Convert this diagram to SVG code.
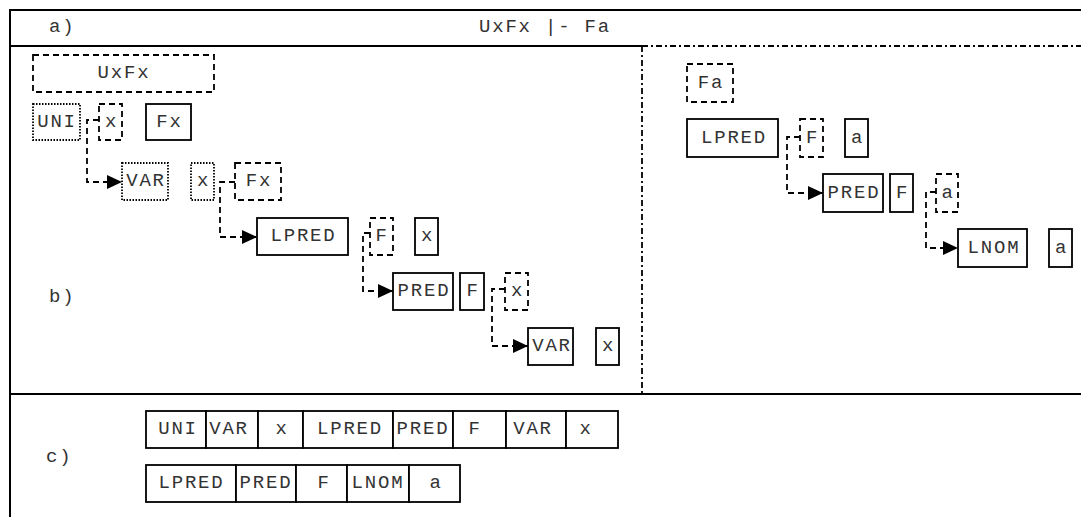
<svg xmlns="http://www.w3.org/2000/svg" width="1081" height="517" viewBox="0 0 1081 517">
<style>
text{font-family:"Liberation Mono","Courier New",monospace;font-size:19px;letter-spacing:1.8px;fill:#333;text-anchor:middle}
.lbl{text-anchor:start}
.s{fill:#fff;stroke:#000;stroke-width:1.8}
.d{fill:none;stroke:#000;stroke-width:1.8;stroke-dasharray:6 4}
.o{fill:none;stroke:#000;stroke-width:1.8;stroke-dasharray:1.5 1.5}
.frame{stroke:#000;stroke-width:2;fill:none}
.dd{stroke:#000;stroke-width:1.8;fill:none;stroke-dasharray:6 3 2 3}
.c{fill:none;stroke:#000;stroke-width:1.8;stroke-dasharray:6 4}
</style>
<defs>
<marker id="ah" markerUnits="userSpaceOnUse" markerWidth="16" markerHeight="14" refX="15" refY="7" orient="auto">
<path d="M0,0 L15,7 L0,14 Z" fill="#000"/>
</marker>
</defs>
<rect width="1081" height="517" fill="#fff"/>
<g id="frame">
<line class="frame" x1="10" y1="10" x2="1081" y2="10"/>
<line class="frame" x1="10" y1="9" x2="10" y2="517"/>
<line class="frame" x1="10" y1="46" x2="642" y2="46"/>
<line class="dd" x1="642" y1="46" x2="1081" y2="46"/>
<line class="dd" x1="642" y1="46" x2="642" y2="393"/>
<line class="frame" x1="10" y1="394" x2="1081" y2="394"/>
<text class="lbl" x="49" y="32">a)</text>
<text x="545" y="32">UxFx |- Fa</text>
<text class="lbl" x="49" y="302">b)</text>
<text class="lbl" x="46" y="462">c)</text>
</g>
<g id="connectors">
<path class="c" d="M99,120 H87 V182 H122" marker-end="url(#ah)"/>
<path class="c" d="M235,182 H220 V237 H257" marker-end="url(#ah)"/>
<path class="c" d="M370,233 H363 V291 H393" marker-end="url(#ah)"/>
<path class="c" d="M505,289 H492 V346 H528" marker-end="url(#ah)"/>
<path class="c" d="M800,137 H787 V193 H823" marker-end="url(#ah)"/>
<path class="c" d="M936,192 H926 V248 H958" marker-end="url(#ah)"/>
</g>
<g id="n_UxFx"><rect class="d" x="33" y="55" width="181" height="37"/><text x="124" y="78">UxFx</text></g>
<g id="n_UNI"><rect class="o" x="33" y="104" width="47" height="36"/><text x="57" y="127">UNI</text></g>
<g id="n_x1"><rect class="d" x="99" y="104" width="23" height="36"/><text x="111.5" y="127">x</text></g>
<g id="n_Fx1"><rect class="s" x="146" y="104" width="45" height="36"/><text x="169.5" y="127">Fx</text></g>
<g id="n_VAR1"><rect class="o" x="122" y="163" width="46" height="37"/><text x="146" y="186">VAR</text></g>
<g id="n_x2"><rect class="o" x="191" y="163" width="23" height="37"/><text x="203.5" y="186">x</text></g>
<g id="n_Fx2"><rect class="d" x="235" y="163" width="46" height="37"/><text x="259" y="186">Fx</text></g>
<g id="n_LPRED1"><rect class="s" x="257" y="218" width="91" height="37"/><text x="303.5" y="241">LPRED</text></g>
<g id="n_F1"><rect class="d" x="370" y="218" width="23" height="37"/><text x="382" y="241">F</text></g>
<g id="n_x3"><rect class="s" x="415" y="218" width="23" height="37"/><text x="427.5" y="241">x</text></g>
<g id="n_PRED1"><rect class="s" x="393" y="273" width="60" height="37"/><text x="424" y="296">PRED</text></g>
<g id="n_F2"><rect class="s" x="460" y="273" width="24" height="37"/><text x="473" y="296">F</text></g>
<g id="n_x4"><rect class="d" x="505" y="273" width="23" height="37"/><text x="517.5" y="296">x</text></g>
<g id="n_VAR2"><rect class="s" x="528" y="328" width="45" height="37"/><text x="552" y="351">VAR</text></g>
<g id="n_x5"><rect class="s" x="596" y="328" width="23" height="37"/><text x="608.5" y="351">x</text></g>
<g id="n_Fa"><rect class="d" x="687" y="64" width="46" height="38"/><text x="711" y="88">Fa</text></g>
<g id="n_LPRED2"><rect class="s" x="687" y="119" width="91" height="38"/><text x="734" y="143">LPRED</text></g>
<g id="n_F3"><rect class="d" x="800" y="119" width="23" height="38"/><text x="812.5" y="143">F</text></g>
<g id="n_a1"><rect class="s" x="845" y="119" width="23" height="38"/><text x="857.5" y="143">a</text></g>
<g id="n_PRED2"><rect class="s" x="823" y="174" width="60" height="38"/><text x="854" y="198">PRED</text></g>
<g id="n_F4"><rect class="s" x="890" y="174" width="23" height="38"/><text x="902.5" y="198">F</text></g>
<g id="n_a2"><rect class="d" x="936" y="174" width="22" height="38"/><text x="948" y="198">a</text></g>
<g id="n_LNOM"><rect class="s" x="958" y="229" width="69" height="38"/><text x="994" y="253">LNOM</text></g>
<g id="n_a3"><rect class="s" x="1049" y="229" width="23" height="38"/><text x="1061.5" y="253">a</text></g>
<g id="row1">
<rect class="s" x="146" y="411" width="60" height="37"/><text x="178" y="434">UNI</text>
<rect class="s" x="206" y="411" width="52" height="37"/><text x="229" y="434">VAR</text>
<rect class="s" x="258" y="411" width="45" height="37"/><text x="282" y="434">x</text>
<rect class="s" x="303" y="411" width="90" height="37"/><text x="350" y="434">LPRED</text>
<rect class="s" x="393" y="411" width="60" height="37"/><text x="423" y="434">PRED</text>
<rect class="s" x="453" y="411" width="53" height="37"/><text x="475" y="434">F</text>
<rect class="s" x="506" y="411" width="60" height="37"/><text x="533" y="434">VAR</text>
<rect class="s" x="566" y="411" width="52" height="37"/><text x="586" y="434">x</text>
</g>
<g id="row2">
<rect class="s" x="146" y="465" width="90" height="37"/><text x="191.5" y="488">LPRED</text>
<rect class="s" x="236" y="465" width="60" height="37"/><text x="266" y="488">PRED</text>
<rect class="s" x="296" y="465" width="51" height="37"/><text x="324" y="488">F</text>
<rect class="s" x="347" y="465" width="62" height="37"/><text x="378" y="488">LNOM</text>
<rect class="s" x="409" y="465" width="51" height="37"/><text x="436" y="488">a</text>
</g>
</svg>
